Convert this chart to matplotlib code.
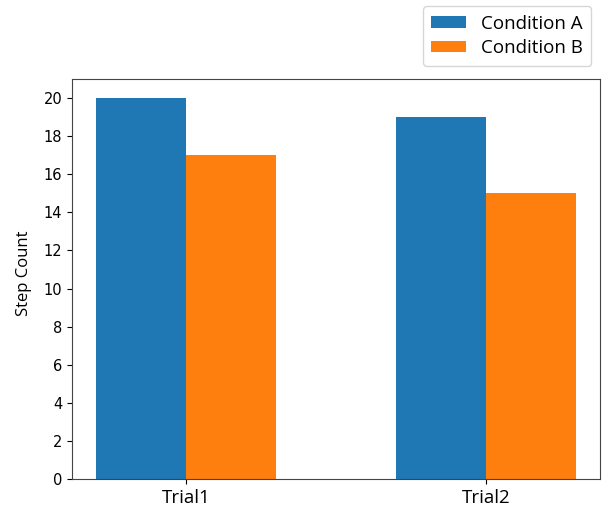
import numpy as np
import matplotlib.pyplot as plt

trials = ['Trial1', 'Trial2']
condition_a = [20, 19]
condition_b = [17, 15]

width = 0.3
x = np.arange(len(trials))

fig = plt.figure(figsize=(6.04, 5.12), dpi=100)
ax = fig.add_axes([0.1192, 0.0645, 0.8742, 0.7812])

ax.bar(x - width / 2, condition_a, width, color='#1f77b4', label='Condition A')
ax.bar(x + width / 2, condition_b, width, color='#ff7f0e', label='Condition B')

ax.set_ylim(0, 21)
ax.set_yticks(range(0, 21, 2))
ax.tick_params(axis='y', labelsize=10.5)
ax.set_xticks(x)
ax.set_xticklabels(trials, fontsize=13.5, family=['Open Sans', 'DejaVu Sans'])
ax.set_ylabel('Step Count', fontsize=12, family=['Open Sans', 'DejaVu Sans'])
ax.yaxis.set_label_coords(-0.075, 0.515)
for s in ax.spines.values():
    s.set_color('#444444')

fig.legend(loc='upper right', bbox_to_anchor=(0.979, 0.988), borderaxespad=0,
           handlelength=1.85, handleheight=0.6, borderpad=0.45, labelspacing=0.35,
           handletextpad=0.8, prop={'family': ['Open Sans', 'DejaVu Sans'], 'size': 13.5})

fig.savefig('out.png', dpi=100)
